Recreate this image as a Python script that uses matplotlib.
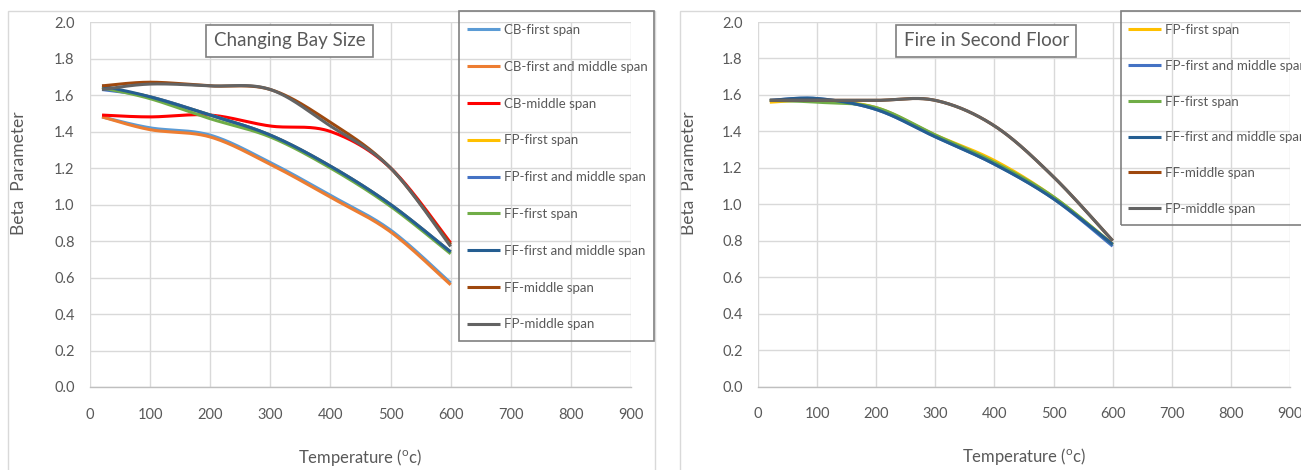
import numpy as np
import matplotlib
matplotlib.use('Agg')
import matplotlib.pyplot as plt
from matplotlib.patches import Rectangle
from matplotlib.ticker import FormatStrFormatter, MultipleLocator

plt.rcParams['font.family'] = ['Lato', 'DejaVu Sans']
plt.rcParams['mathtext.fontset'] = 'custom'
plt.rcParams['mathtext.rm'] = 'Lato'
plt.rcParams['mathtext.it'] = 'Lato'

# temperatures (deg C)
temps = [20, 100, 200, 300, 400, 500, 600]

# left panel: changing bay size
bay_labels = ['CB-first span', 'CB-first and middle span', 'CB-middle span',
              'FP-first span', 'FP-first and middle span', 'FF-first span',
              'FF-first and middle span', 'FF-middle span', 'FP-middle span']
cb_first = [1.48, 1.42, 1.38, 1.23, 1.05, 0.86, 0.57]
cb_first_middle = [1.48, 1.41, 1.37, 1.22, 1.04, 0.85, 0.56]
cb_middle = [1.49, 1.48, 1.49, 1.43, 1.40, 1.20, 0.79]
fp_first = [1.64, 1.59, 1.49, 1.38, 1.21, 1.00, 0.74]
fp_first_middle = [1.63, 1.59, 1.49, 1.38, 1.21, 1.00, 0.74]
ff_first = [1.64, 1.58, 1.47, 1.37, 1.20, 0.99, 0.73]
ff_first_middle = [1.65, 1.59, 1.49, 1.38, 1.21, 1.00, 0.74]
ff_middle = [1.65, 1.67, 1.65, 1.63, 1.45, 1.20, 0.78]
fp_middle = [1.63, 1.66, 1.65, 1.63, 1.43, 1.20, 0.77]

# right panel: fire in second floor
floor_labels = ['FP-first span', 'FP-first and middle span', 'FF-first span',
                'FF-first and middle span', 'FF-middle span', 'FP-middle span']
fp_first_2 = [1.56, 1.57, 1.53, 1.38, 1.24, 1.04, 0.78]
fp_first_middle_2 = [1.57, 1.58, 1.52, 1.37, 1.22, 1.03, 0.77]
ff_first_2 = [1.57, 1.56, 1.53, 1.38, 1.23, 1.04, 0.78]
ff_first_middle_2 = [1.57, 1.58, 1.52, 1.37, 1.22, 1.03, 0.78]
ff_middle_2 = [1.57, 1.57, 1.57, 1.57, 1.43, 1.15, 0.80]
fp_middle_2 = [1.57, 1.57, 1.57, 1.57, 1.43, 1.15, 0.80]

colors = {
    'CB-first span': '#5B9BD5',
    'CB-first and middle span': '#ED7D31',
    'CB-middle span': '#FF0000',
    'FP-first span': '#FFC000',
    'FP-first and middle span': '#4472C4',
    'FF-first span': '#70AD47',
    'FF-first and middle span': '#255E91',
    'FF-middle span': '#9E480E',
    'FP-middle span': '#636363',
}

TXT = '#595959'


def smooth(x, y, n=40):
    # excel style smoothed line (bezier through the points)
    x = np.asarray(x, float)
    y = np.asarray(y, float)
    px, py = [], []
    m = len(x)
    for i in range(m - 1):
        i0 = max(i - 1, 0)
        i3 = min(i + 2, m - 1)
        c1x = x[i] + (x[i + 1] - x[i0]) / 6
        c1y = y[i] + (y[i + 1] - y[i0]) / 6
        c2x = x[i + 1] - (x[i3] - x[i]) / 6
        c2y = y[i + 1] - (y[i3] - y[i]) / 6
        t = np.linspace(0, 1, n)
        a = (1 - t) ** 3
        b = 3 * (1 - t) ** 2 * t
        c = 3 * (1 - t) * t ** 2
        d = t ** 3
        px.extend(a * x[i] + b * c1x + c * c2x + d * x[i + 1])
        py.extend(a * y[i] + b * c1y + c * c2y + d * y[i + 1])
    return px, py


def style_axes(ax, title, title_x):
    ax.set_xlim(0, 900)
    ax.set_ylim(0, 2.0)
    ax.xaxis.set_major_locator(MultipleLocator(100))
    ax.yaxis.set_major_locator(MultipleLocator(0.2))
    ax.yaxis.set_major_formatter(FormatStrFormatter('%.1f'))
    ax.grid(True, color='#d9d9d9', lw=1.0)
    ax.set_axisbelow(True)
    for s in ['top', 'right', 'left']:
        ax.spines[s].set_visible(False)
    ax.spines['bottom'].set_color('#bfbfbf')
    ax.spines['bottom'].set_linewidth(1.0)
    ax.tick_params(length=0, labelsize=10.5, labelcolor=TXT)
    ax.tick_params(axis='x', pad=15)
    ax.tick_params(axis='y', pad=11)
    ax.set_xlabel('Temperature ($^{o}$c)', fontsize=12, color=TXT)
    ax.set_ylabel('Beta  Parameter', fontsize=12.5, color=TXT)
    ax.text(title_x, 0.949, title, transform=ax.transAxes, ha='center', va='center',
            fontsize=13.5, color=TXT,
            bbox=dict(boxstyle='square,pad=0.4', fc='white', ec='#7f7f7f', lw=1.2))


fig = plt.figure(figsize=(13.01, 4.70), dpi=100)
W, H = 1301, 470

# chart area borders
fig.patches.append(Rectangle((8 / W, -0.1), (655 - 8) / W, 1.1 - 11 / H,
                             transform=fig.transFigure, fill=False, ec='#d9d9d9', lw=1))
fig.patches.append(Rectangle((680 / W, -0.1), 1.2, 1.1 - 11 / H,
                             transform=fig.transFigure, fill=False, ec='#d9d9d9', lw=1))

ax1 = fig.add_axes([90 / W, 1 - 387 / H, 541 / W, 365 / H])
ax2 = fig.add_axes([758 / W, 1 - 386.5 / H, 532 / W, 364.5 / H])

left_series = [cb_first, cb_first_middle, cb_middle, fp_first, fp_first_middle,
               ff_first, ff_first_middle, ff_middle, fp_middle]
for lab, vals in zip(bay_labels, left_series):
    sx, sy = smooth(temps, vals)
    ax1.plot(sx, sy, color=colors[lab], lw=2.2, label=lab, solid_capstyle='butt')

right_series = [fp_first_2, fp_first_middle_2, ff_first_2, ff_first_middle_2,
                ff_middle_2, fp_middle_2]
for lab, vals in zip(floor_labels, right_series):
    sx, sy = smooth(temps, vals)
    ax2.plot(sx, sy, color=colors[lab], lw=2.2, label=lab, solid_capstyle='butt')

style_axes(ax1, 'Changing Bay Size', 0.369)
style_axes(ax2, 'Fire in Second Floor', 0.429)
ax1.yaxis.set_label_coords(-0.1165, 0.586)
ax2.yaxis.set_label_coords(-0.1147, 0.586)
ax1.xaxis.set_label_coords(0.5, -0.164)
ax2.xaxis.set_label_coords(0.5, -0.163)

# legend boxes
fig.patches.append(Rectangle((459 / W, 1 - 341 / H), (654 - 459) / W, (341 - 11) / H,
                             transform=fig.transFigure, fill=False, ec='#808080', lw=1.2))
fig.patches.append(Rectangle((1121 / W, 1 - 225 / H), 0.5, (225 - 11) / H,
                             transform=fig.transFigure, fill=False, ec='#808080', lw=1.2))

leg_kw = dict(loc='upper left', frameon=False, fontsize=9.5, labelcolor=TXT,
              handlelength=2.5, handletextpad=0.3, labelspacing=1.88,
              borderpad=0, borderaxespad=0)
fig.legend(*ax1.get_legend_handles_labels(), bbox_to_anchor=(467 / W, 1 - 24 / H), **leg_kw)
leg_kw['labelspacing'] = 1.8
fig.legend(*ax2.get_legend_handles_labels(), bbox_to_anchor=(1128 / W, 1 - 24 / H), **leg_kw)

fig.savefig('out.png', dpi=100)
